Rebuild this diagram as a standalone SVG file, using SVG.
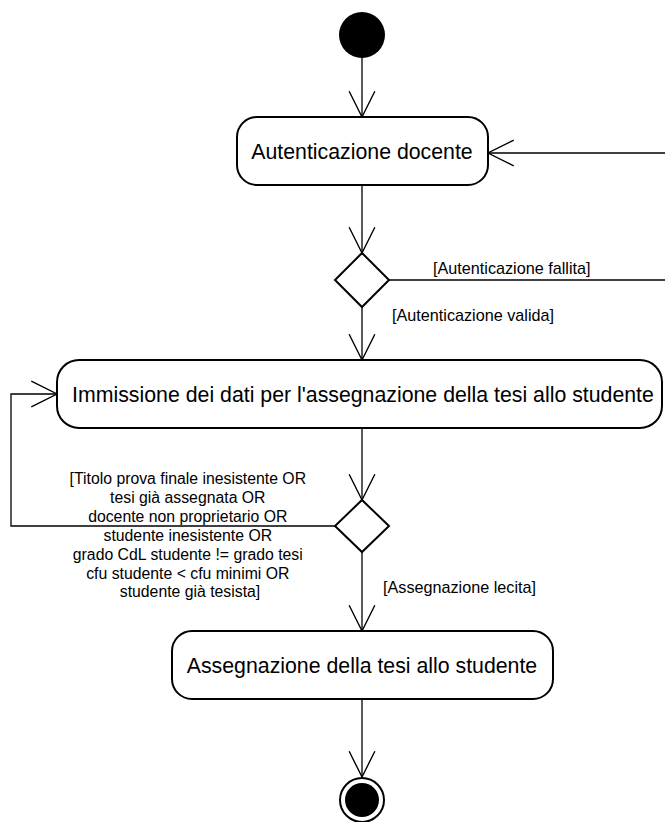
<svg xmlns="http://www.w3.org/2000/svg" width="665" height="822" viewBox="0 0 665 822">
  <style>
    .action { fill: #ffffff; stroke: #000000; stroke-width: 2; }
    .decision { fill: #ffffff; stroke: #000000; stroke-width: 2; }
    .flow { fill: none; stroke: #000000; stroke-width: 1.3; }
    .name { font-family: "Liberation Sans", Arial, sans-serif; font-size: 21.3px; fill: #000000; text-anchor: middle; }
    .guard { font-family: "Liberation Sans", Arial, sans-serif; font-size: 16.2px; fill: #000000; }
    .guard-multi { font-family: "Liberation Sans", Arial, sans-serif; font-size: 15.8px; fill: #000000; text-anchor: middle; }
  </style>
  <defs>
    <marker id="open" markerUnits="userSpaceOnUse" markerWidth="30" markerHeight="30" viewBox="-26 -14 28 28" refX="0" refY="0" orient="auto" overflow="visible">
      <path d="M -24 -12 L 0 0 L -24 12" fill="none" stroke="#000000" stroke-width="1.3"/>
    </marker>
  </defs>

  <!-- control flows -->
  <g id="flows">
    <line class="flow" x1="362" y1="57" x2="362" y2="117" marker-end="url(#open)"/>
    <line class="flow" x1="362" y1="185" x2="362" y2="253" marker-end="url(#open)"/>
    <polyline class="flow" points="389,280 665,280"/>
    <line class="flow" x1="665" y1="153" x2="488" y2="153" marker-end="url(#open)"/>
    <line class="flow" x1="362" y1="307" x2="362" y2="360" marker-end="url(#open)"/>
    <line class="flow" x1="362" y1="428" x2="362" y2="500" marker-end="url(#open)"/>
    <polyline class="flow" points="336,526 11,526 11,394 57,394" marker-end="url(#open)"/>
    <line class="flow" x1="362" y1="552" x2="362" y2="631" marker-end="url(#open)"/>
    <line class="flow" x1="362" y1="699" x2="362" y2="777" marker-end="url(#open)"/>
    <text class="guard" x="433" y="274">[Autenticazione fallita]</text>
    <text class="guard" x="392" y="321">[Autenticazione valida]</text>
    <text class="guard" x="383" y="593">[Assegnazione lecita]</text>
    <text class="guard-multi">
      <tspan x="190" y="484">[Titolo prova finale inesistente OR</tspan>
      <tspan x="190" y="503">tesi già assegnata OR</tspan>
      <tspan x="190" y="522">docente non proprietario OR</tspan>
      <tspan x="190" y="541">studente inesistente OR</tspan>
      <tspan x="190" y="560">grado CdL studente != grado tesi</tspan>
      <tspan x="190" y="579">cfu studente &lt; cfu minimi OR</tspan>
      <tspan x="190" y="597">studente già tesista]</tspan>
    </text>
  </g>

  <g id="start">
    <circle cx="362" cy="35" r="23" fill="#000000"/>
  </g>

  <g id="autenticazione">
    <rect class="action" x="237" y="117" width="251" height="68" rx="20" ry="20"/>
    <text class="name" x="362" y="159">Autenticazione docente</text>
  </g>

  <g id="decisione-autenticazione">
    <polygon class="decision" points="362,253 389,280 362,307 335,280"/>
  </g>

  <g id="immissione">
    <rect class="action" x="57" y="360" width="605" height="68" rx="22" ry="22"/>
    <text class="name" x="363" y="402">Immissione dei dati per l'assegnazione della tesi allo studente</text>
  </g>

  <g id="decisione-assegnazione">
    <polygon class="decision" points="362,500 389,526 362,552 335,526"/>
  </g>

  <g id="assegnazione">
    <rect class="action" x="172" y="631" width="381" height="68" rx="20" ry="20"/>
    <text class="name" x="362" y="673">Assegnazione della tesi allo studente</text>
  </g>

  <g id="end">
    <circle cx="362" cy="800" r="22" fill="#ffffff" stroke="#000000" stroke-width="2"/>
    <circle cx="362" cy="800" r="17" fill="#000000"/>
  </g>
</svg>
